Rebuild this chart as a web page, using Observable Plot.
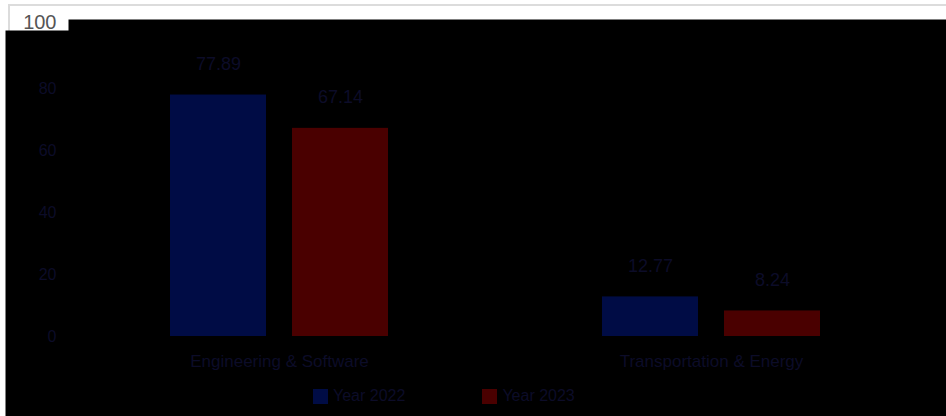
<!DOCTYPE html>
<html>
<head>
<meta charset="utf-8">
<script src="https://cdn.jsdelivr.net/npm/d3@7"></script>
<script src="https://cdn.jsdelivr.net/npm/@observablehq/plot@0.6"></script>
<style>
  html, body { margin: 0; padding: 0; background: #fff; }
  #wrap { position: relative; width: 946px; height: 416px; overflow: hidden; font-family: "Liberation Sans", Arial, sans-serif; }
  #box { position: absolute; left: 8px; top: 4px; width: 960px; height: 200px; border-top: 2px solid #dcdcdc; border-left: 2px solid #dcdcdc; }
  #chart { position: absolute; left: 0; top: 0; }
  #legend { position: absolute; left: 313px; top: 387px; display: flex; align-items: center; font-size: 16px; color: #0c0c28; }
  .item { display: flex; align-items: center; margin-right: 77px; }
  .sw { width: 15px; height: 15px; margin-right: 5px; }
</style>
</head>
<body>
<div id="wrap">
  <div id="box"></div>
  <div id="chart"></div>
  <div id="legend"></div>
</div>
<script>
const categories = ["Engineering & Software", "Transportation & Energy"];
const series = ["Year 2022", "Year 2023"];
const values2022 = [77.89, 12.77];
const values2023 = [67.14, 8.24];
const yTicks = [0, 20, 40, 60, 80];
const topTick = [100];
const colors = ["#000c45", "#4a0000"];
const dim = "#0c0c28";

const data = categories.flatMap((c, i) => [
  {category: c, series: series[0], value: values2022[i]},
  {category: c, series: series[1], value: values2023[i]}
]);

const chart = Plot.plot({
  width: 946,
  height: 416,
  marginLeft: 62,
  marginRight: 19,
  marginTop: 26,
  marginBottom: 80,
  style: {background: "transparent", fontFamily: "'Liberation Sans', Arial, sans-serif", overflow: "visible"},
  fx: {domain: categories, paddingInner: 0, paddingOuter: 0, axis: null, label: null},
  x: {domain: series, paddingInner: 0.2114, paddingOuter: 0.8638, axis: null},
  y: {domain: [0, 100], axis: null},
  color: {domain: series, range: colors},
  marks: [
    Plot.axisY(topTick, {tickSize: 0, tickPadding: 7, fill: "#555", fontSize: 20, dy: -4, label: null}),
    Plot.frame({fill: "black", facet: "super", insetLeft: 5, insetTop: -7, insetRight: -19, insetBottom: -80}),
    Plot.frame({fill: "black", facet: "super", insetLeft: -58, insetTop: 4, insetRight: 850, insetBottom: -80}),
    Plot.axisY(yTicks, {tickSize: 0, tickPadding: 7, fill: dim, fontSize: 16, label: null}),
    Plot.barY(data, {fx: "category", x: "series", y: "value", fill: "series"}),
    Plot.text(data, {fx: "category", x: "series", y: "value", text: d => d.value.toFixed(2), dy: -31, fill: dim, fontSize: 18}),
    Plot.text(categories, {fx: d => d, text: d => d, frameAnchor: "bottom", dy: 30, fill: dim, fontSize: 17})
  ]
});
document.getElementById("chart").appendChild(chart);

const legend = document.getElementById("legend");
series.forEach((s, i) => {
  const item = document.createElement("div");
  item.className = "item";
  const sw = document.createElement("div");
  sw.className = "sw";
  sw.style.background = colors[i];
  const label = document.createElement("span");
  label.textContent = s;
  item.appendChild(sw);
  item.appendChild(label);
  legend.appendChild(item);
});
</script>
</body>
</html>
